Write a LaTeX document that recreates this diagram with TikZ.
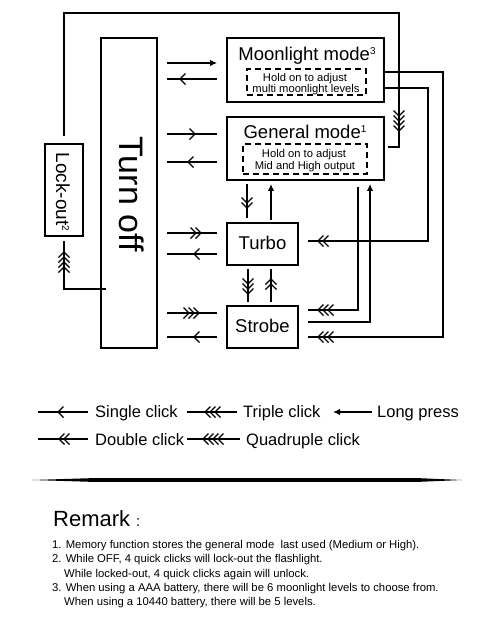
\documentclass[tikz,border=0pt]{standalone}
\usepackage{fontspec}
\setmainfont{Liberation Sans}
\usetikzlibrary{arrows.meta,calc}
\newcommand{\supnum}[2]{\raisebox{#1}{\fontsize{10}{10}\selectfont #2}}
\begin{document}
\begin{tikzpicture}[x=1pt,y=-1pt,line join=miter,
  box/.style={draw,line width=1.8pt,inner sep=0pt},
  dbox/.style={draw,line width=1.8pt,dash pattern=on 6pt off 4pt,inner sep=0pt},
  cline/.style={line width=1.5pt},
  tip/.style={-{Latex[length=7pt,width=6.5pt]}},
  lbl/.style={inner sep=0pt,anchor=base},
  leg/.style={inner sep=0pt,anchor=base west,font=\fontsize{16.5}{16.5}\selectfont},
  rem/.style={inner sep=0pt,anchor=base west,font=\fontsize{11.3}{11.3}\selectfont},
  pics/chevs/.style={code={\foreach \k in {1,...,#1}{\draw[line width=1.3pt] ({-(\k-1)*5pt-5.5pt},5.5pt) -- ({-(\k-1)*5pt},0pt) -- ({-(\k-1)*5pt-5.5pt},-5.5pt);}}}
]
\fill[white] (0,0) rectangle (485,619);
\useasboundingbox (0,0) rectangle (485,619);

% boxes
\node[box,minimum width=56pt,minimum height=310pt] (turnoff) at (129,193) {};
\node[rotate=-90,inner sep=0pt,font=\fontsize{34}{34}\selectfont] (turnofftxt) at (132,194) {Turn off};
\node[box,minimum width=38pt,minimum height=92pt] (lockout) at (64,190) {};
\node[rotate=-90,inner sep=0pt,font=\fontsize{19}{19}\selectfont] (lockouttxt) at (63,192) {Lock-out\supnum{6pt}{2}};

\node[box,minimum width=157pt,minimum height=64pt] (moon) at (305.5,70) {};
\node[lbl,font=\fontsize{18.5}{18.5}\selectfont] (moontitle) at (307,60) {Moonlight mode\supnum{5.5pt}{3}};
\node[dbox,minimum width=119pt,minimum height=26pt] (moondash) at (306.5,82) {};
\node[lbl,font=\fontsize{11.2}{11.2}\selectfont] (moont1) at (305,81) {Hold on to adjust};
\node[lbl,font=\fontsize{11.2}{11.2}\selectfont] (moont2) at (306,92) {multi moonlight levels};

\node[box,minimum width=157pt,minimum height=63pt] (gen) at (305.5,148.5) {};
\node[lbl,font=\fontsize{18.5}{18.5}\selectfont] (gentitle) at (305,138) {General mode\supnum{5.5pt}{1}};
\node[dbox,minimum width=124pt,minimum height=30pt] (gendash) at (305,159) {};
\node[lbl,font=\fontsize{11.2}{11.2}\selectfont] (gent1) at (304,157) {Hold on to adjust};
\node[lbl,font=\fontsize{11.2}{11.2}\selectfont] (gent2) at (305,169) {Mid and High output};

\node[box,minimum width=71pt,minimum height=42pt] (turbo) at (262.5,244) {};
\node[lbl,font=\fontsize{18.5}{18.5}\selectfont] (turbotxt) at (262.5,249) {Turbo};
\node[box,minimum width=71pt,minimum height=42pt] (strobe) at (262.5,327) {};
\node[lbl,font=\fontsize{18.5}{18.5}\selectfont] (strobetxt) at (262.5,332) {Strobe};

% Turn off <-> modes
\draw[cline,tip,shorten <=9pt,shorten >=9pt] (turnoff.east |- 0,63) -- (moon.west |- 0,63);
\draw[cline,shorten <=9pt,shorten >=9pt] (turnoff.east |- 0,79) -- (moon.west |- 0,79);
\pic[rotate=180] at (180,79) {chevs=1};
\draw[cline,shorten <=9pt,shorten >=9pt] (turnoff.east |- 0,134) -- (gen.west |- 0,134);
\pic at (195,134) {chevs=1};
\draw[cline,shorten <=9pt,shorten >=9pt] (turnoff.east |- 0,162) -- (gen.west |- 0,162);
\pic[rotate=180] at (188,162) {chevs=1};
\draw[cline,shorten <=9pt,shorten >=9pt] (turnoff.east |- 0,233) -- (turbo.west |- 0,233);
\pic at (201,233) {chevs=2};
\draw[cline,shorten <=9pt,shorten >=9pt] (turnoff.east |- 0,254) -- (turbo.west |- 0,254);
\pic[rotate=180] at (194,254) {chevs=1};
\draw[cline,shorten <=9pt,shorten >=9pt] (turnoff.east |- 0,313) -- (strobe.west |- 0,313);
\pic at (199,313) {chevs=3};
\draw[cline,shorten <=9pt,shorten >=9pt] (turnoff.east |- 0,337) -- (strobe.west |- 0,337);
\pic[rotate=180] at (194,337) {chevs=1};

% General <-> Turbo <-> Strobe
\draw[cline,shorten <=3pt,shorten >=4pt] (gen.south -| 247,0) -- (turbo.north -| 247,0);
\pic[rotate=-90] at (247,208) {chevs=2};
\draw[cline,tip,shorten <=2pt,shorten >=3pt] (turbo.north -| 271,0) -- (gen.south -| 271,0);
\draw[cline,shorten <=3pt,shorten >=3pt] (turbo.south -| 248,0) -- (strobe.north -| 248,0);
\pic[rotate=-90] at (248,294) {chevs=3};
\draw[cline,shorten <=3pt,shorten >=3pt] (strobe.north -| 271,0) -- (turbo.south -| 271,0);
\pic[rotate=90] at (271,279) {chevs=2};

% right side
\draw[cline,shorten >=9pt] (moon.east |- 0,72) -| (443,337) -- (strobe.east |- 0,337);
\pic[rotate=180] at (318,337) {chevs=3};
\draw[cline,shorten >=9pt] (moon.east |- 0,88) -| (428,241) -- (turbo.east |- 0,241);
\pic[rotate=180] at (318,241) {chevs=2};
\draw[cline,shorten <=6pt,shorten >=9pt] (gen.south -| 358,0) |- (strobe.east |- 0,310);
\pic[rotate=180] at (318,310) {chevs=3};
\draw[cline,tip,shorten <=9pt,shorten >=3pt] (strobe.east |- 0,322) -| (gen.south -| 370,0);

% lock-out loops
\draw[cline,shorten <=7pt,shorten >=3pt] (lockout.north) |- (399,13) |- (gen.east |- 0,147);
\pic[rotate=-90] at (399,131) {chevs=4};
\draw[cline,shorten <=-6pt,shorten >=4pt] (turnoff.west |- 0,289) -| (lockout.south);
\pic[rotate=90] at (64,252) {chevs=4};

% legend
\node[leg] (lg1) at (95,417) {Single click};
\node[leg] (lg2) at (243,417) {Triple click};
\node[leg] (lg3) at (377,417) {Long press};
\node[leg] (lg4) at (95,445) {Double click};
\node[leg] (lg5) at (246,445) {Quadruple click};
\coordinate (c1) at (38,412);
\coordinate (c2) at (187,412);
\coordinate (c3) at (333,412);
\coordinate (c4) at (38,439);
\coordinate (c5) at (187,439);
\draw[cline,shorten >=7pt] (c1) -- (lg1.west |- c1);
\pic[rotate=180] at (58,412) {chevs=1};
\draw[cline,shorten >=6pt] (c2) -- (lg2.west |- c2);
\pic[rotate=180] at (205,412) {chevs=3};
\draw[cline,tip,shorten <=5pt] (lg3.west |- c3) -- (c3);
\draw[cline,shorten >=7pt] (c4) -- (lg4.west |- c4);
\pic[rotate=180] at (59,439) {chevs=2};
\draw[cline,shorten >=6pt] (c5) -- (lg5.west |- c5);
\pic[rotate=180] at (203,439) {chevs=4};

% separator
\fill[black] (32,480) -- (90,478.2) -- (420,478.2) -- (462,480) -- (420,481.8) -- (90,481.8) -- cycle;

% remarks
\node[inner sep=0pt,anchor=base west,font=\fontsize{22}{22}\selectfont] (remark) at (53,526) {Remark};
\node[inner sep=0pt,anchor=base west,font=\fontsize{15}{15}\selectfont] (remcolon) at (136,526) {:};
\node[rem] (r1) at (52,548) {1. Memory function stores the general mode\ \ last used (Medium or High).};
\node[rem] (r2) at (52,562) {2. While OFF, 4 quick clicks will lock-out the flashlight.};
\node[rem] (r3) at (64,577) {While locked-out, 4 quick clicks again will unlock.};
\node[rem] (r4) at (52,591) {3. When using a AAA battery, there will be 6 moonlight levels to choose from.};
\node[rem] (r5) at (64,605) {When using a 10440 battery, there will be 5 levels.};
\end{tikzpicture}
\end{document}
